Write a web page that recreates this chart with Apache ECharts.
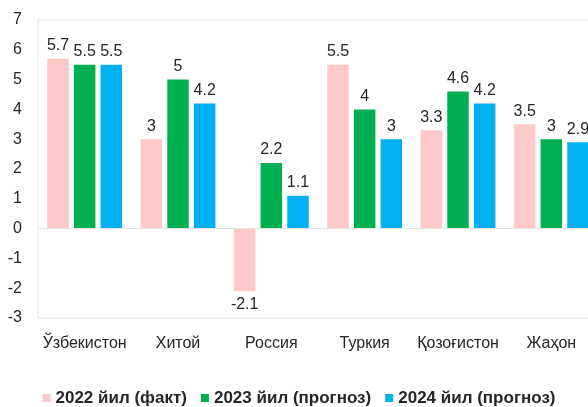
<!DOCTYPE html>
<html>
<head>
<meta charset="utf-8">
<style>
  html, body { margin: 0; padding: 0; background: #fff; overflow: hidden; }
  /* plot runs a bit past the right edge, like the cropped original */
  #chart { width: 598px; height: 407px; }
</style>
<script src="https://cdn.jsdelivr.net/npm/echarts@6/dist/echarts.min.js"></script>
</head>
<body>
<div id="chart"></div>
<script>
const categories = ['Ўзбекистон', 'Хитой', 'Россия', 'Туркия', 'Қозоғистон', 'Жаҳон']
const seriesNames = ['2022 йил (факт)', '2023 йил (прогноз)', '2024 йил (прогноз)']
const values2022 = [5.7, 3, -2.1, 5.5, 3.3, 3.5]
const values2023 = [5.5, 5, 2.2, 4, 4.6, 3]
const values2024 = [5.5, 4.2, 1.1, 3, 4.2, 2.9]
const colors = ['#ffc9c9', '#00b050', '#00b0f0']

const font = 'Liberation Sans, Arial, sans-serif'
const textColor = '#262626'

const chart = echarts.init(document.getElementById('chart'))

// negative bars get their label underneath
const toData = (arr) => arr.map(v => ({
  value: v,
  label: { position: v < 0 ? 'bottom' : 'top' }
}))

const series = [values2022, values2023, values2024].map((arr, i) => {
  return {
    name: seriesNames[i],
    type: 'bar',
    barWidth: 21.5,
    barGap: '24%',
    itemStyle: { color: colors[i] },
    label: {
      show: true,
      distance: 5,
      color: textColor,
      fontFamily: font,
      fontSize: 16
    },
    data: toData(arr)
  }
})

chart.setOption({
  animation: false,
  legend: {
    top: 388,
    left: 'center',
    padding: 0,
    itemWidth: 8,
    itemHeight: 8,
    itemGap: 14,
    icon: 'rect',
    textStyle: {
      color: textColor,
      fontFamily: font,
      fontSize: 17,
      fontWeight: 'bold',
      lineHeight: 20
    },
    data: seriesNames
  },
  grid: {
    left: 38,
    top: 20,
    right: 0,
    height: 298,
    show: true,
    borderColor: '#e4e4e4',
    borderWidth: 1
  },
  xAxis: {
    type: 'category',
    data: categories,
    position: 'bottom',
    axisLine: { show: false },
    axisTick: { show: false },
    axisLabel: {
      interval: 0,
      color: textColor,
      fontFamily: font,
      fontSize: 16,
      margin: 18
    }
  },
  yAxis: {
    type: 'value',
    min: -3,
    max: 7,
    interval: 1,
    axisLine: { show: false },
    axisTick: { show: false },
    splitLine: { show: false },
    axisLabel: {
      color: textColor,
      fontFamily: font,
      fontSize: 16,
      margin: 16
    }
  },
  series: [
    ...series,
    {
      // zero line
      type: 'line',
      data: [],
      markLine: {
        silent: true,
        symbol: 'none',
        label: { show: false },
        lineStyle: { color: '#e4e4e4', type: 'solid', width: 1 },
        data: [{ yAxis: 0 }]
      }
    }
  ]
})
</script>
</body>
</html>
